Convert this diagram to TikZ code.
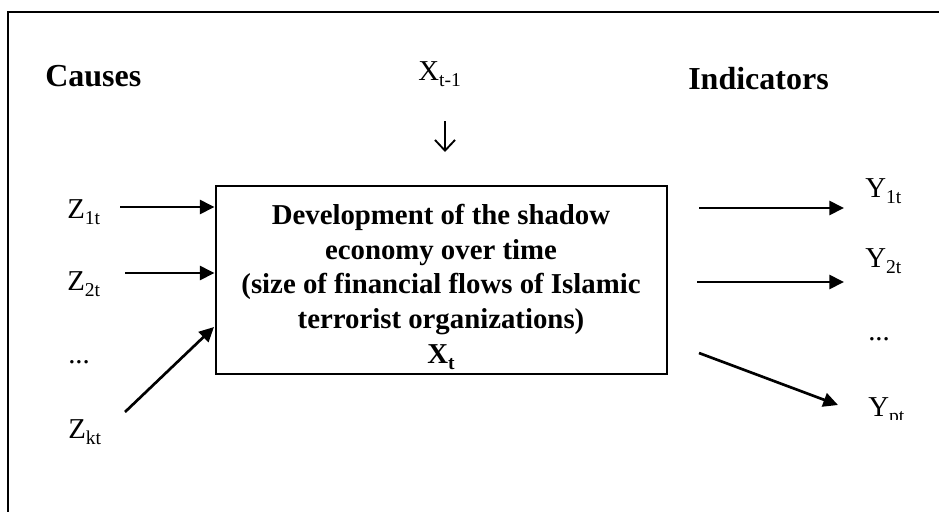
\documentclass[tikz,border=0pt]{standalone}
\usepackage{fontspec}
\setmainfont{Liberation Serif}
\usetikzlibrary{arrows.meta}
\newcommand\mysub[1]{\raisebox{-0.22em}{\fontsize{14.7}{14.7}\selectfont #1}}
\begin{document}
\begin{tikzpicture}[x=0.75pt,y=-0.75pt,
  lbl/.style={anchor=base west, inner sep=0pt, font=\fontsize{21.6}{25}\selectfont},
  head/.style={anchor=base west, inner sep=0pt, font=\fontsize{24}{28}\selectfont\bfseries},
  arr/.style={line width=2pt, -{Triangle[length=11pt,width=10.5pt]}},
  openarr/.style={line width=1.4pt, -{Straight Barb[length=8pt,width=15pt]}},
  frame/.style={line width=2pt},
  mainbox/.style={draw, line width=1.5pt, minimum width=338.25pt, minimum height=141pt,
    inner sep=0pt},
  boxtext/.style={inner sep=0pt, align=center, font=\fontsize{21.6}{26}\selectfont\bfseries}]
\useasboundingbox (0,0) rectangle (939,511);
\draw[frame] (8,512) -- (8,12) -- (940,12);
% headings
\node[head] (causes) at (45,86) {Causes};
\node[head] (ind) at (688,89) {Indicators};
% previous state
\node[lbl] (xprev) at (418,80) {X\mysub{t-1}};
\coordinate (dtop) at (445,121);
\coordinate (dbot) at (445,152);
\draw[openarr] (dtop) -- (dbot);
% main box
\node[mainbox] (box) at (441,280) {};
\node[boxtext] (boxt) at (441,287) {Development of the shadow\\economy over time\\(size of financial flows of Islamic\\terrorist organizations)\\X\mysub{t}};
% causes
\node[lbl] (z1) at (67,218) {Z\mysub{1t}};
\node[lbl] (z2) at (67,290) {Z\mysub{2t}};
\node[lbl] (zd) at (68,363) {...};
\node[lbl] (zk) at (68,438) {Z\mysub{kt}};
\coordinate (t1) at (120,207);
\coordinate (t2) at (125,273);
\coordinate (tk) at (125,412);
\coordinate (hk) at (214,327);
\draw[arr] (t1) -- (t1 -| box.west);
\draw[arr] (t2) -- (t2 -| box.west);
\draw[arr] (tk) -- (hk);
% indicators
\node[lbl] (y1) at (865,197) {Y\mysub{1t}};
\node[lbl] (y2) at (865,267) {Y\mysub{2t}};
\node[lbl] (yd) at (868,340) {...};
\begin{scope}
\clip (800,380) rectangle (939,419);
\node[lbl] (yp) at (868,416) {Y\mysub{pt}};
\end{scope}
\coordinate (r1s) at (699,208);
\coordinate (r1e) at (844,208);
\coordinate (r2s) at (697,282);
\coordinate (r2e) at (844,282);
\coordinate (rps) at (699,353);
\coordinate (rpe) at (838,405);
\draw[arr] (r1s) -- (r1e);
\draw[arr] (r2s) -- (r2e);
\draw[arr] (rps) -- (rpe);
\end{tikzpicture}
\end{document}
